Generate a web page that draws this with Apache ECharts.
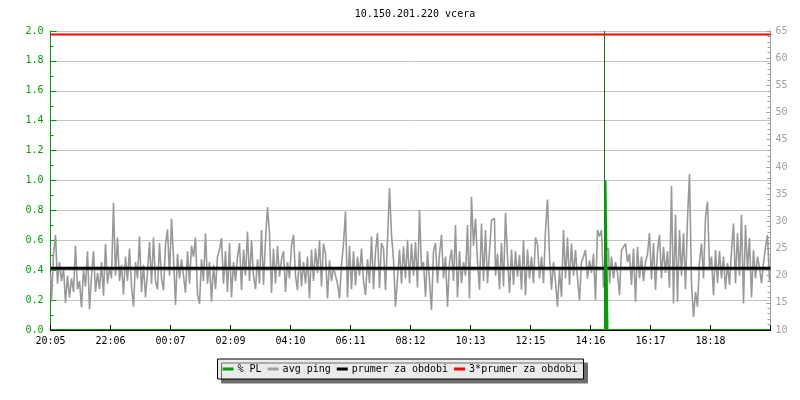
<!DOCTYPE html>
<html>
<head>
<meta charset="utf-8">
<script src="https://cdn.jsdelivr.net/npm/echarts@6/dist/echarts.min.js"></script>
<style>html,body{margin:0;padding:0;background:#fff}#c{width:800px;height:400px}</style>
</head>
<body>
<div id="c"></div>
<script>
const titleText = '10.150.201.220 vcera';
const tickLabels = ['20:05','22:06','00:07','02:09','04:10','06:11','08:12','10:13','12:15','14:16','16:17','18:18'];
const seriesNames = ['% PL','avg ping','prumer za obdobi','3*prumer za obdobi'];
// avg ping [ms], one sample per ~4 min
const avgPing = [
20.5,15.2,24,27.5,18.5,22.5,19,21.5,15,20, 16,19.5,17,25.5,17.5,19,14.2,21,18,24.5,
13.8,20,24.5,17,20.5,17.5,22.5,16.3,25.8,18.5, 21.5,19.5,33.4,20,27,19,22,16.5,23.5,19,
25,18,14.3,22.5,19.5,27.2,17,22,16,20.5, 26.2,18.5,27,19,17.5,26,19.5,17.3,25.8,28.5,
20,30.5,23.5,14.6,24,19.5,23,20,16.8,24.5, 18.5,25.5,
23.5,27,16.5,14.8,23,19,27.8,18.5,22.5,15.2, 22,17.5,23.5,24.8,26.9,18.5,24.5,17,26,16,
22.5,19,23.5,26,17.3,24.8,20,28.1,19,26.5, 20,17.5,23,18.5,28.4,18.3,26.5,32.6,27.8,16.8,
25,18.5,25.5,19.8,23,24.5,17,22.5,19.5,25.5, 27.5,20,17.3,24.5,18,22.5,18.5,23.5,15.8,24.8,
19,25,20.5,26.5,18,25.9,24,15.8,22.8,19, 21.5,20,
18.5,15.8,22,25.9,31.8,16,25.5,17.5,24.5,18.2, 23.5,20,25,19,16.4,23,18.6,27.2,17.5,24.5,
27.8,17.7,26,25,17.3,26.5,36.1,27.5,23,14.3, 19.5,24.8,18.5,25.4,19.5,26.6,18.6,25.9,20,26.2,
17.8,32.1,21.5,22.5,16.1,24.5,19,13.7,24.5,26, 18.6,24,27.5,19.5,23.5,14.3,22.5,24.8,19,29.3,
16,24.5,18.6,22.5,20,29.3,15.8,34.5,25.5,30.5, 22.5,17.4,
29.6,19,28.4,18.6,24.5,30.2,30.5,20,24,17.5, 26,18,31.5,23.5,16.8,24.8,18.3,24.5,19.8,23.8,
17.4,26.5,16.4,24.8,19.5,23.5,18.6,27,25.7,19.5, 23.5,18.6,28.4,34,23.5,17.4,22.5,18.9,14.3,21,
16.1,28.4,19.5,27,18.3,25.9,20,24.7,19.5,15.5, 22.5,23.5,24.7,19.5,22.8,20.5,24,15.5,28.4,27.2,
28.4,17.8,24.7,25,18.5,23.5,19.5,22.5,20.5,16.4, 24.7,25.3,
25.9,22.5,24,18.3,25,15.2,25.3,19.5,23.5,19, 22.5,24,27.8,19.3,26,17.4,24.5,27.5,19.5,25.3,
20.5,24.5,17.8,36.5,14.9,31.2,15.2,28.4,20,27.8, 17.5,30.5,38.7,18.6,12.4,17,14.3,22.5,25.9,19.5,
30.8,33.6,21.5,23.5,16.4,24.7,18.6,24.5,19.5,23.5, 17.5,22.3,18.3,24.5,29.6,18.6,27.8,20,31.2,14.9,
29.3,21,26.9,16,24.7,19.5,23.5,21.5,18.6,22.3, 25.3,27.5,
19
];
// packet loss [%]: sample index -> value (all other samples 0)
const plIndex = [278];
const plValue = [1.0];
// sample whose packet loss is off the top of the scale
const plOffscaleIndex = [277];
const prumer = 21.35;
const triPrumer = 64.35;

const cats = avgPing.map((v, i) => String(i));
const plData = avgPing.map(() => 0);
plIndex.forEach((k, j) => { plData[k] = plValue[j]; });
const prumerData = avgPing.map(() => prumer);
const triData = avgPing.map(() => triPrumer);

const font = 'DejaVu Sans Mono';
const chart = echarts.init(document.getElementById('c'), null, {renderer: 'canvas'});
chart.setOption({
  animation: false,
  backgroundColor: '#ffffff',
  title: {
    text: titleText, left: 410, top: 4, textAlign: 'center',
    textStyle: {fontFamily: font, fontSize: 10, fontWeight: 'normal', color: '#000'}
  },
  legend: {
    data: seriesNames.map(name => ({name: name})),
    left: 'center', top: 359,
    icon: 'rect', itemWidth: 11, itemHeight: 3, itemGap: 6,
    padding: [5, 6, 5, 5],
    backgroundColor: '#ebebeb', borderColor: '#000', borderWidth: 1,
    shadowColor: '#6e6e6e', shadowOffsetX: 4, shadowOffsetY: 4, shadowBlur: 0,
    textStyle: {fontFamily: font, fontSize: 10, color: '#000', padding: [0, 0, 0, -1]},
    selectedMode: false
  },
  grid: {left: 50.5, right: 29.5, top: 31, bottom: 70, containLabel: false},
  xAxis: {
    type: 'category', data: cats, boundaryGap: false, z: 10,
    axisLine: {lineStyle: {color: '#000', width: 1}},
    axisTick: {inside: true, length: 5, interval: 29, lineStyle: {color: '#000'}},
    axisLabel: {
      interval: 29, margin: 6, fontFamily: font, fontSize: 10, color: '#000',
      formatter: (v, i) => { const k = Math.round(i / 30); return (i % 30 === 0 && k < tickLabels.length) ? tickLabels[k] : ''; }
    },
    splitLine: {show: false}
  },
  yAxis: [
    {
      type: 'value', min: 0, max: 2, interval: 0.2, position: 'left',
      axisLine: {show: true, lineStyle: {color: '#00a000'}},
      axisTick: {show: true, inside: true, length: 6, lineStyle: {color: '#00a000'}},
      minorTick: {show: true, splitNumber: 2, length: 3, lineStyle: {color: '#00a000'}},
      axisLabel: {margin: 7, fontFamily: font, fontSize: 10, color: '#00a000', formatter: v => v.toFixed(1)},
      splitLine: {show: true, lineStyle: {color: '#c4c4c4', width: 1}}
    },
    {
      type: 'value', min: 10, max: 65, interval: 5, position: 'right',
      axisLine: {show: true, lineStyle: {color: '#a0a0a0'}},
      axisTick: {show: true, inside: true, length: 4, lineStyle: {color: '#a0a0a0'}},
      minorTick: {show: true, splitNumber: 5, length: 3, lineStyle: {color: '#a0a0a0'}},
      axisLabel: {margin: 5, fontFamily: font, fontSize: 10, color: '#a0a0a0'},
      splitLine: {show: false}
    }
  ],
  series: [
    {name: seriesNames[0], type: 'line', yAxisIndex: 0, data: plData, symbol: 'none', z: 5, step: 'middle',
     itemStyle: {color: '#00a000'}, lineStyle: {color: '#00a000', width: 2},
     markLine: {silent: true, symbol: 'none', label: {show: false},
       lineStyle: {color: '#108010', width: 1, type: 'solid'},
       data: plOffscaleIndex.map(k => ({xAxis: String(k)}))}},
    {name: seriesNames[1], type: 'line', yAxisIndex: 1, data: avgPing, symbol: 'none', z: 2, step: 'middle',
     itemStyle: {color: '#a0a0a0'}, lineStyle: {color: '#999999', width: 1.6}},
    {name: seriesNames[2], type: 'line', yAxisIndex: 1, data: prumerData, symbol: 'none', z: 4,
     itemStyle: {color: '#000'}, lineStyle: {color: '#000', width: 3}},
    {name: seriesNames[3], type: 'line', yAxisIndex: 1, data: triData, symbol: 'none', z: 4,
     itemStyle: {color: '#ff0000'}, lineStyle: {color: '#ff0000', width: 2}}
  ]
});
</script>
</body>
</html>
